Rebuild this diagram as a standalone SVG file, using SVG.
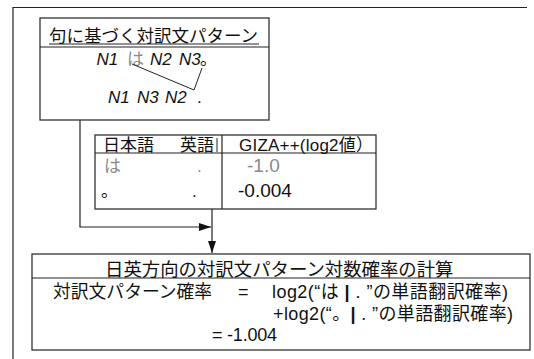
<svg xmlns="http://www.w3.org/2000/svg" width="534" height="359" viewBox="0 0 534 359">
<defs>
<style>
text{font-family:"Liberation Sans","Noto Sans CJK JP",sans-serif;fill:#111;font-size:17px}
.box{fill:#fff;stroke:#333;stroke-width:1.3}
.ln{fill:none;stroke:#222;stroke-width:1.2}
.gray{fill:#8a8a8a}
.it{font-style:italic}
</style>
<marker id="ah" markerWidth="12" markerHeight="8" refX="12" refY="4" orient="auto" markerUnits="userSpaceOnUse">
<path d="M0,0 L12,4 L0,8 Z" fill="#111"/>
</marker>
</defs>
<rect x="0" y="0" width="534" height="359" fill="#fff"/>
<g id="frame">
<path class="ln" d="M13,359 V7.5 H527"/>
</g>
<g id="connectors">
<path class="ln" d="M80,120 V227 H211" marker-end="url(#ah)"/>
<path class="ln" d="M212,209 V253" marker-end="url(#ah)"/>
</g>
<g id="pattern">
<rect class="box" x="40" y="18" width="229" height="102"/>
<line class="ln" x1="40" y1="47" x2="269" y2="47"/>
<text x="49" y="42" style="font-size:17.5px">句に基づく対訳文パターン</text>
<line class="ln" x1="49" y1="44" x2="259" y2="44" style="stroke-width:1"/>
<text class="it" x="96.5" y="65">N1</text>
<text class="gray" x="127" y="65">は</text>
<text class="it" x="150" y="65">N2</text>
<text class="it" x="179" y="65">N3</text>
<text x="200" y="65">。</text>
<polyline class="ln" points="132,64 194,90 202,68" style="stroke-width:1"/>
<text class="it" x="108" y="103">N1</text>
<text class="it" x="137" y="103">N3</text>
<text class="it" x="165" y="103">N2</text>
<text x="197" y="103">.</text>
</g>
<g id="table">
<rect class="box" x="95" y="135" width="281" height="74"/>
<line class="ln" x1="95" y1="153" x2="376" y2="153"/>
<line class="ln" x1="222" y1="135" x2="222" y2="209"/>
<line class="ln" x1="217" y1="138" x2="217" y2="152" style="stroke-width:1"/>
<text x="103" y="151">日本語</text>
<text x="180" y="151">英語</text>
<text x="239" y="151" textLength="134" lengthAdjust="spacing">GIZA++(log2値）</text>
<text class="gray" x="104" y="172">は</text>
<text class="gray" x="197" y="172">.</text>
<text class="gray" x="247" y="172" style="font-size:19px">-1.0</text>
<text x="101" y="197">。</text>
<text x="192" y="197">.</text>
<text x="238" y="197" style="font-size:19px">-0.004</text>
</g>
<g id="calc">
<rect class="box" x="32" y="254" width="498" height="96"/>
<line class="ln" x1="32" y1="278" x2="530" y2="278"/>
<text x="105" y="276" style="font-size:18.4px">日英方向の対訳文パターン対数確率の計算</text>
<text x="53" y="298" style="font-size:17.8px">対訳文パターン確率</text>
<text x="238" y="298" style="font-size:18px">=</text>
<text x="272" y="298" style="font-size:18px" textLength="236" lengthAdjust="spacing">log2(“は <tspan font-weight="bold">|</tspan> . ”の単語翻訳確率)</text>
<text x="273" y="320" style="font-size:18px" textLength="240" lengthAdjust="spacing">+log2(“。<tspan font-weight="bold">|</tspan> . ”の単語翻訳確率)</text>
<text x="212" y="341" style="font-size:18px" textLength="65" lengthAdjust="spacing">= -1.004</text>
</g>
</svg>
